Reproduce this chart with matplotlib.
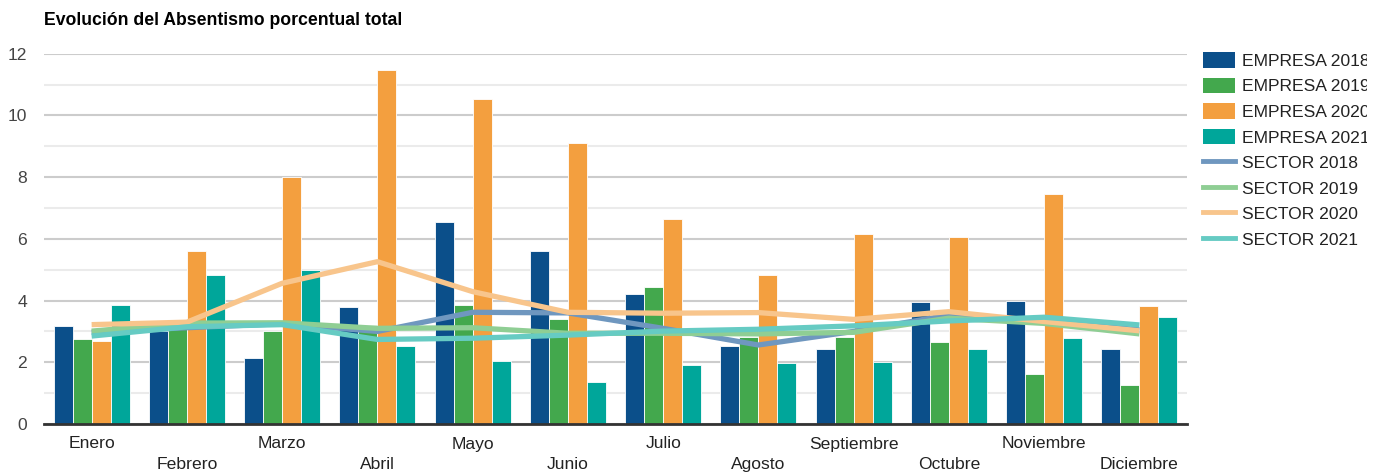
import matplotlib
matplotlib.use("Agg")
import matplotlib.pyplot as plt
import numpy as np
from matplotlib.patches import Patch
from matplotlib.lines import Line2D
from matplotlib.transforms import Bbox, TransformedBbox

plt.rcParams['font.family'] = ['Liberation Sans', 'DejaVu Sans']

months = ["Enero", "Febrero", "Marzo", "Abril", "Mayo", "Junio", "Julio",
          "Agosto", "Septiembre", "Octubre", "Noviembre", "Diciembre"]

empresa_2018 = [3.18, 3.0, 2.14, 3.79, 6.55, 5.61, 4.21, 2.53, 2.43, 3.95, 3.99, 2.43]
empresa_2019 = [2.75, 3.15, 3.01, 3.2, 3.86, 3.40, 4.44, 2.83, 2.83, 2.66, 1.62, 1.26]
empresa_2020 = [2.70, 5.61, 8.0, 11.47, 10.53, 9.1, 6.64, 4.83, 6.16, 6.06, 7.45, 3.82]
empresa_2021 = [3.86, 4.83, 4.99, 2.53, 2.04, 1.36, 1.91, 1.98, 2.01, 2.43, 2.79, 3.47]

sector_2018 = [2.97, 3.12, 3.25, 3.0, 3.62, 3.6, 3.1, 2.56, 3.0, 3.53, 3.35, 3.05]
sector_2019 = [3.01, 3.27, 3.28, 3.1, 3.12, 2.94, 2.94, 2.92, 2.97, 3.43, 3.26, 2.92]
sector_2020 = [3.22, 3.3, 4.56, 5.26, 4.29, 3.62, 3.59, 3.61, 3.39, 3.64, 3.32, 3.02]
sector_2021 = [2.85, 3.15, 3.22, 2.74, 2.78, 2.88, 3.01, 3.07, 3.18, 3.34, 3.46, 3.21]

bar_series = [("EMPRESA 2018", empresa_2018, "#0b4f8a"),
              ("EMPRESA 2019", empresa_2019, "#43a84d"),
              ("EMPRESA 2020", empresa_2020, "#f39f3f"),
              ("EMPRESA 2021", empresa_2021, "#00a69a")]
line_series = [("SECTOR 2018", sector_2018, "#6f97bf"),
               ("SECTOR 2019", sector_2019, "#8fce94"),
               ("SECTOR 2020", sector_2020, "#f8c58c"),
               ("SECTOR 2021", sector_2021, "#66cbc3")]

W, H = 1388, 472
fig = plt.figure(figsize=(W / 100, H / 100), dpi=100)
ax = fig.add_axes([44 / W, 1 - 424 / H, (1187 - 44) / W, (424 - 53.7) / H])

x = np.arange(len(months))
bw = 0.2
for i, (name, vals, col) in enumerate(bar_series):
    ax.bar(x + (i - 1.5) * bw, vals, width=bw, color=col, edgecolor="white",
           linewidth=0.6, zorder=2)
for name, vals, col in line_series:
    ax.plot(x, vals, color=col, linewidth=3.8, zorder=3, solid_capstyle="butt")

ax.set_xlim(-0.5, len(months) - 0.5)
ax.set_ylim(0, 12)
ax.set_yticks(np.arange(0, 13, 2))
ax.set_yticks(np.arange(1, 12, 2), minor=True)
ax.grid(axis="y", which="major", color="#cccccc", linewidth=1.5, zorder=0)
ax.grid(axis="y", which="minor", color="#ebebeb", linewidth=1.5, zorder=0)
ax.set_axisbelow(True)
for s in ["top", "right", "left"]:
    ax.spines[s].set_visible(False)
ax.spines["bottom"].set_color("#333333")
ax.spines["bottom"].set_linewidth(2)
ax.spines["bottom"].set_zorder(4)

ax.set_xticks(x[0::2])
ax.set_xticklabels(months[0::2])
ax.set_xticks(x[1::2], minor=True)
ax.set_xticklabels(months[1::2], minor=True)
ax.tick_params(axis="x", which="major", length=0, pad=9, labelsize=12.6, labelcolor="#222222")
ax.tick_params(axis="x", which="minor", length=0, pad=24, labelsize=12.6, labelcolor="#222222")
ax.tick_params(axis="y", which="both", length=0, pad=12, labelsize=12.6, labelcolor="#444444")

fig.text(44 / W, 1 - 25 / H, "Evolución del Absentismo porcentual total",
         fontsize=12.7, fontweight="bold", va="baseline", ha="left", color="#000000")

handles = [Patch(facecolor=c, edgecolor="none") for _, _, c in bar_series]
handles += [Line2D([0], [0], color=c, linewidth=3.5) for _, _, c in line_series]
labels = [n for n, _, _ in bar_series] + [n for n, _, _ in line_series]
leg = fig.legend(handles, labels, loc="upper left",
                 bbox_to_anchor=(1203 / W, 1 - 52 / H), frameon=False,
                 fontsize=12.6, handlelength=1.82, handleheight=1.0,
                 handletextpad=0.4, labelspacing=0.5, borderaxespad=0,
                 borderpad=0, labelcolor="#222222")
clip = TransformedBbox(Bbox([[0, 0], [1367 / W, 1]]), fig.transFigure)
for t in leg.get_texts():
    t.set_clip_box(clip)
    t.set_clip_on(True)

fig.savefig("out.png", dpi=100)
